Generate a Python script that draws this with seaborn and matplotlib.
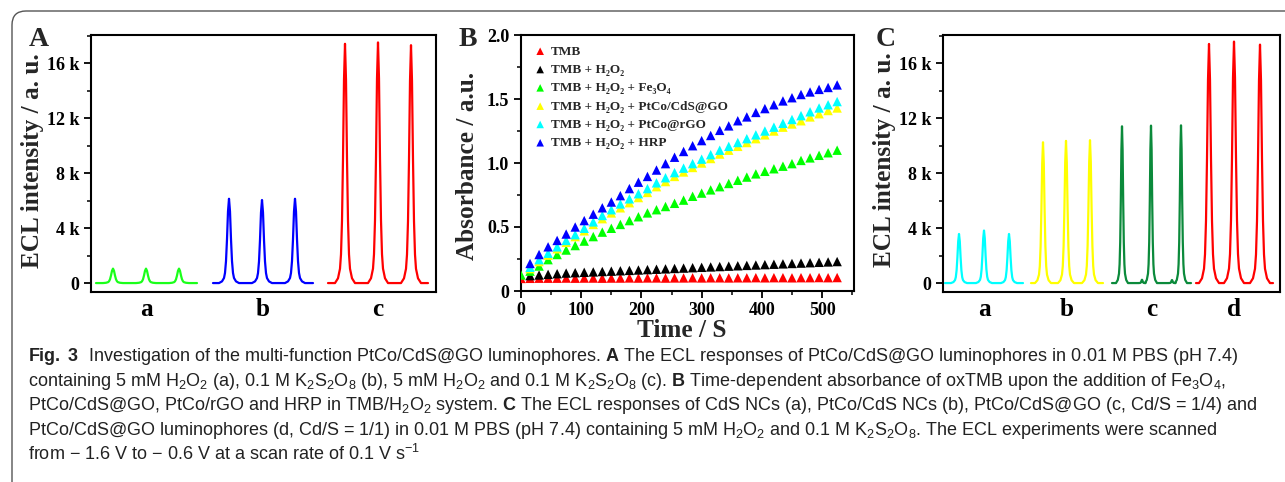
import numpy as np
import pandas as pd
import matplotlib
matplotlib.use("Agg")
import matplotlib.pyplot as plt
from matplotlib import font_manager
from matplotlib.patches import FancyBboxPatch
from matplotlib.ticker import MultipleLocator, FuncFormatter, FixedLocator
import seaborn as sns

# ---------------- data ----------------
# Panel A: ECL peak intensities (a.u.), three scans per condition
A_LABELS = ["a", "b", "c"]
A_PEAKS = [
    [1050, 1050, 1050],
    [6130, 6040, 6130],
    [17400, 17500, 17300],
]

# Panel C: ECL peak intensities (a.u.)
C_LABELS = ["a", "b", "c", "d"]
C_PEAKS = [
    [3570, 3820, 3570],
    [10240, 10340, 10390],
    [11400, 11450, 11470],
    [17390, 17560, 17340],
]
C_SMALL_PEAKS = [[], [], [240, 220], []]

# Panel B: absorbance vs time
TIME_0 = [0, 15, 30, 45, 60, 75, 90, 105, 120, 135, 150, 165, 180, 195, 210, 225, 240,
          255, 270, 285, 300, 315, 330, 345, 360, 375, 390, 405, 420, 435, 450, 465,
          480, 495, 510, 525]
TIME_15 = TIME_0[1:]
ABS_TMB = [0.098, 0.099, 0.100, 0.100, 0.100, 0.101, 0.100, 0.101, 0.101, 0.100, 0.101,
           0.101, 0.102, 0.101, 0.102, 0.102, 0.101, 0.102, 0.102, 0.103, 0.102, 0.103,
           0.103, 0.102, 0.103, 0.103, 0.104, 0.103, 0.104, 0.104, 0.103, 0.104, 0.104,
           0.105, 0.104, 0.105]
ABS_H2O2 = [0.120, 0.125, 0.130, 0.135, 0.140, 0.143, 0.146, 0.149, 0.152, 0.155, 0.158,
            0.161, 0.164, 0.167, 0.170, 0.173, 0.176, 0.179, 0.182, 0.185, 0.188, 0.191,
            0.194, 0.197, 0.200, 0.203, 0.206, 0.209, 0.212, 0.215, 0.218, 0.221, 0.224,
            0.227, 0.230]
ABS_FE3O4 = [0.125, 0.155, 0.195, 0.245, 0.285, 0.320, 0.355, 0.390, 0.425, 0.460, 0.490,
             0.520, 0.550, 0.580, 0.610, 0.635, 0.660, 0.685, 0.710, 0.740, 0.765, 0.790,
             0.815, 0.840, 0.865, 0.890, 0.915, 0.935, 0.955, 0.975, 0.995, 1.020, 1.040,
             1.060, 1.080, 1.100]
ABS_PTCO_CDS = [0.175, 0.230, 0.280, 0.330, 0.380, 0.425, 0.470, 0.520, 0.565, 0.610,
                0.650, 0.690, 0.730, 0.770, 0.815, 0.855, 0.895, 0.930, 0.965, 1.000,
                1.035, 1.070, 1.100, 1.130, 1.160, 1.190, 1.220, 1.250, 1.280, 1.305,
                1.330, 1.360, 1.385, 1.410, 1.430]
ABS_PTCO_RGO = [0.185, 0.245, 0.295, 0.345, 0.395, 0.440, 0.490, 0.540, 0.590, 0.635,
                0.680, 0.720, 0.760, 0.800, 0.845, 0.885, 0.925, 0.960, 0.995, 1.030,
                1.065, 1.100, 1.130, 1.160, 1.190, 1.220, 1.250, 1.280, 1.310, 1.340,
                1.370, 1.400, 1.430, 1.455, 1.480]
ABS_HRP = [0.215, 0.285, 0.345, 0.395, 0.445, 0.500, 0.550, 0.600, 0.650, 0.695, 0.745,
           0.800, 0.850, 0.895, 0.945, 0.995, 1.045, 1.090, 1.135, 1.175, 1.215, 1.255,
           1.290, 1.330, 1.360, 1.395, 1.425, 1.455, 1.485, 1.510, 1.535, 1.555, 1.575,
           1.590, 1.610]
B_LABELS = ["TMB", "TMB + H₂O₂", "TMB + H₂O₂ + Fe₃O₄", "TMB + H₂O₂ + PtCo/CdS@GO",
            "TMB + H₂O₂ + PtCo@rGO", "TMB + H₂O₂ + HRP"]

# relative shape of one ECL peak (scan offset, fraction of peak height)
PROFILE_DX = [-10, -7, -5, -4, -3, -2, -1, 0, 1, 2, 3, 4, 5, 7, 10]
PROFILE_REL = [0, 0.02, 0.06, 0.12, 0.26, 0.52, 0.85, 1, 0.85, 0.52, 0.26, 0.12, 0.06, 0.02, 0]

# ---------------- layout / style ----------------
A_COLORS = ["#1aff1a", "#0000ff", "#ff0000"]
A_SEG_START = [5, 122, 237]
A_SEG_LEN = [101, 100, 100]
A_PEAK_AT = [[17, 50, 83], [16, 49, 82], [17, 50, 83]]

C_COLORS = ["#00ffff", "#ffff00", "#0b8a3b", "#ff0000"]
C_SEG_START = [2, 88, 169, 253]
C_SEG_LEN = [78, 72, 79, 77]
C_PEAK_AT = [[14, 39, 64], [12, 35, 59], [10, 39, 69], [13, 38, 64]]
C_SMALL_AT = [[], [], [30, 60], []]
C_WIDTH = [0.8, 0.8, 0.6, 1.0]

B_COLORS = ["#ff0000", "#000000", "#00ff00", "#ffff00", "#00ffff", "#0000ff"]

W, H = 1285, 482
SERIF = ["Liberation Serif", "DejaVu Serif"]
CAP_FONT = "Liberation Sans"

sns.set_theme(style="ticks")
plt.rcParams.update({
    "font.family": SERIF,
    "axes.linewidth": 1.5,
    "axes.edgecolor": "black",
    "xtick.color": "black",
    "ytick.color": "black",
    "xtick.direction": "out",
    "ytick.direction": "out",
    "xtick.major.width": 1.3,
    "ytick.major.width": 1.3,
    "xtick.minor.width": 1.1,
    "ytick.minor.width": 1.1,
    "xtick.major.size": 5,
    "ytick.major.size": 5,
    "xtick.minor.size": 3,
    "ytick.minor.size": 3,
    "mathtext.fontset": "custom",
    "mathtext.rm": CAP_FONT,
    "mathtext.it": CAP_FONT + ":italic",
    "mathtext.bf": CAP_FONT + ":bold",
})

fig = plt.figure(figsize=(W / 100, H / 100), dpi=100)


def px_axes(l, t, r, b):
    return fig.add_axes([l / W, 1 - b / H, (r - l) / W, (b - t) / H])


def ecl_trace(start, length, peak_at, heights, width=1.0, small_at=(), small_h=()):
    events = [(start + o, h, width) for o, h in zip(peak_at, heights)]
    events += [(start + o, h, 0.35) for o, h in zip(small_at, small_h)]
    events.sort()
    xs, ys = [start], [0.0]
    for c, h, s in events:
        for d, r in zip(PROFILE_DX, PROFILE_REL):
            xs.append(c + d * s)
            ys.append(h * r)
    xs.append(start + length)
    ys.append(0.0)
    return pd.DataFrame({"x": xs, "y": ys})


k_fmt = FuncFormatter(lambda v, p: "0" if abs(v) < 1 else f"{int(round(v / 1000))} k")
TICK_FS = 13
LABEL_FS = 18.2


def style_ecl(ax, centers, labels, xmax):
    ax.set_xlim(0, xmax)
    ax.set_ylim(-650, 18040)
    ax.yaxis.set_major_locator(MultipleLocator(4000))
    ax.yaxis.set_minor_locator(MultipleLocator(2000))
    ax.yaxis.set_major_formatter(k_fmt)
    ax.xaxis.set_major_locator(FixedLocator(centers))
    ax.set_xticklabels(labels)
    ax.tick_params(axis="x", length=0, pad=4, labelsize=LABEL_FS)
    ax.tick_params(axis="y", which="both", right=False, labelsize=TICK_FS)
    for lab in ax.get_xticklabels() + ax.get_yticklabels():
        lab.set_fontweight("bold")
    ax.set_xlabel("")
    ax.set_ylabel("ECL intensity / a. u.", fontsize=LABEL_FS, fontweight="bold")
    for s in ax.spines.values():
        s.set_visible(True)


# ---------------- panel A ----------------
axA = px_axes(91, 35, 436, 292)
for i in range(len(A_LABELS)):
    df = ecl_trace(A_SEG_START[i], A_SEG_LEN[i], A_PEAK_AT[i], A_PEAKS[i])
    sns.lineplot(data=df, x="x", y="y", color=A_COLORS[i], linewidth=1.6,
                 sort=False, estimator=None, ax=axA)
style_ecl(axA, [s + l / 2 for s, l in zip(A_SEG_START, A_SEG_LEN)], A_LABELS, 345)
axA.yaxis.set_label_coords(-0.136, 0.512)

# ---------------- panel C ----------------
axC = px_axes(943, 35, 1280, 292)
for i in range(len(C_LABELS)):
    df = ecl_trace(C_SEG_START[i], C_SEG_LEN[i], C_PEAK_AT[i], C_PEAKS[i],
                   width=C_WIDTH[i], small_at=C_SMALL_AT[i], small_h=C_SMALL_PEAKS[i])
    sns.lineplot(data=df, x="x", y="y", color=C_COLORS[i], linewidth=1.6,
                 sort=False, estimator=None, ax=axC)
style_ecl(axC, [s + l / 2 for s, l in zip(C_SEG_START, C_SEG_LEN)], C_LABELS, 337)
axC.yaxis.set_label_coords(-0.139, 0.515)

# ---------------- panel B ----------------
axB = px_axes(521, 35, 854, 291)
series = [(TIME_0, ABS_TMB), (TIME_15, ABS_H2O2), (TIME_0, ABS_FE3O4),
          (TIME_15, ABS_PTCO_CDS), (TIME_15, ABS_PTCO_RGO), (TIME_15, ABS_HRP)]
for (t, a), lab, col in zip(series, B_LABELS, B_COLORS):
    sns.scatterplot(x=t, y=a, marker="^", s=46, color=col, edgecolor="none",
                    linewidth=0, label=lab, ax=axB, zorder=3)
axB.set_xlim(0, 553)
axB.set_ylim(0, 2.0)
axB.xaxis.set_major_locator(MultipleLocator(100))
axB.xaxis.set_minor_locator(MultipleLocator(50))
axB.yaxis.set_major_locator(MultipleLocator(0.5))
axB.yaxis.set_minor_locator(MultipleLocator(0.25))
axB.yaxis.set_major_formatter(FuncFormatter(lambda v, p: "0" if v == 0 else f"{v:.1f}"))
axB.tick_params(axis="both", which="both", top=False, right=False, labelsize=TICK_FS)
axB.tick_params(axis="x", pad=3)
for lab in axB.get_xticklabels() + axB.get_yticklabels():
    lab.set_fontweight("bold")
axB.set_xlabel("Time / S", fontsize=LABEL_FS, fontweight="bold")
axB.set_ylabel("Absorbance / a.u.", fontsize=LABEL_FS, fontweight="bold")
axB.xaxis.set_label_coords(0.484, -0.108)
axB.yaxis.set_label_coords(-0.126, 0.49)
leg_font = font_manager.FontProperties(family=SERIF, weight="bold", size=9.5)
axB.legend(loc="upper left", bbox_to_anchor=(0.01, 0.99), frameon=False, prop=leg_font,
           handletextpad=0.2, labelspacing=0.46, borderaxespad=0.2, handlelength=1.2,
           markerscale=0.8)

# ---------------- panel letters ----------------
for letter, x in [("A", 29), ("B", 459), ("C", 876)]:
    fig.text(x / W, 1 - 46 / H, letter, fontsize=20, fontweight="bold",
             ha="left", va="baseline")

# ---------------- caption ----------------
CAPTION = [
    r"$\mathbf{Fig.\ 3}$  Investigation of the multi-function PtCo/CdS@GO luminophores. "
    r"$\mathbf{A}$ The ECL responses of PtCo/CdS@GO luminophores in 0.01 M PBS (pH 7.4)",
    r"containing 5 mM H$_2$O$_2$ (a), 0.1 M K$_2$S$_2$O$_8$ (b), 5 mM H$_2$O$_2$ and "
    r"0.1 M K$_2$S$_2$O$_8$ (c). $\mathbf{B}$ Time-dependent absorbance of oxTMB upon the "
    r"addition of Fe$_3$O$_4$,",
    r"PtCo/CdS@GO, PtCo/rGO and HRP in TMB/H$_2$O$_2$ system. $\mathbf{C}$ The ECL responses "
    r"of CdS NCs (a), PtCo/CdS NCs (b), PtCo/CdS@GO (c, Cd/S = 1/4) and",
    r"PtCo/CdS@GO luminophores (d, Cd/S = 1/1) in 0.01 M PBS (pH 7.4) containing 5 mM "
    r"H$_2$O$_2$ and 0.1 M K$_2$S$_2$O$_8$. The ECL experiments were scanned",
    r"from − 1.6 V to − 0.6 V at a scan rate of 0.1 V s$^{-1}$",
]
for i, line in enumerate(CAPTION):
    fig.text(28 / W, 1 - (361 + 24.75 * i) / H, line, fontsize=13.0, family=CAP_FONT,
             fontweight="normal", color="#222222", ha="left", va="baseline")

# ---------------- outer frame ----------------
frame = FancyBboxPatch((12, -40), 1400, H - 11 + 40, boxstyle="round,pad=0,rounding_size=14",
                       transform=None, facecolor="none", edgecolor="#555555", linewidth=1.0)
fig.add_artist(frame)

fig.savefig("out.png", dpi=100)
